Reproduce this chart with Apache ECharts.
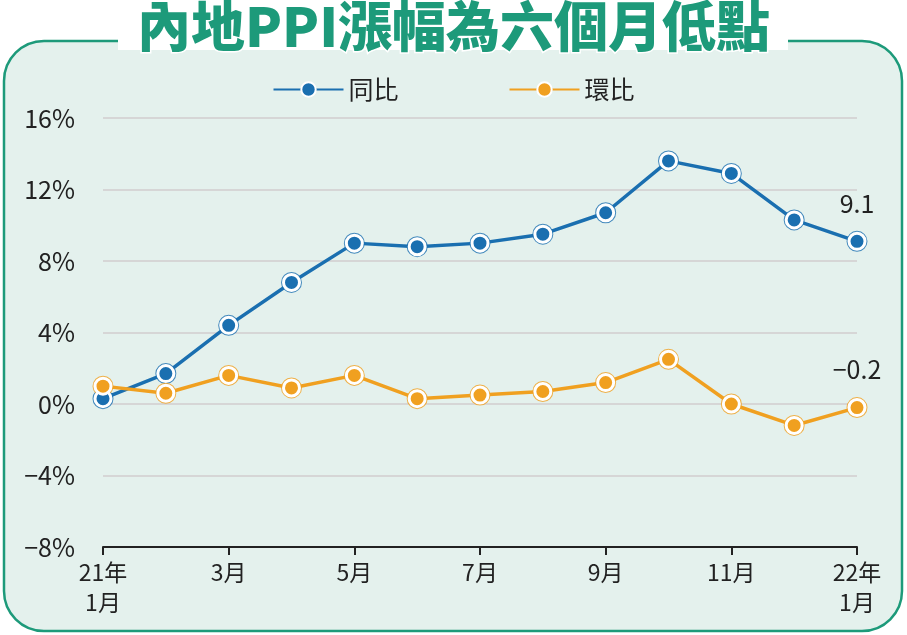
<!DOCTYPE html><html><head><meta charset="utf-8"><script src="https://cdn.jsdelivr.net/npm/echarts@6/dist/echarts.min.js"></script>
<style>body{margin:0;background:#fff}#c{width:907px;height:635px}</style></head><body><div id="c"></div><script>
const categories=['21年\n1月','','3月','','5月','','7月','','9月','','11月','','22年\n1月'];
const yoy=[0.3,1.7,4.4,6.8,9.0,8.8,9.0,9.5,10.7,13.6,12.9,10.3,9.1];
const mom=[1.0,0.6,1.6,0.9,1.6,0.3,0.5,0.7,1.2,2.5,0.0,-1.2,-0.2];
const blue='#1a6fb0',orange='#f0a020';
const font='"Noto Sans CJK TC",sans-serif';
const ch=echarts.init(document.getElementById('c'));
function last(arr,f){return arr.map((v,i)=>i===arr.length-1?{value:v,label:{show:true,formatter:f}}:v);}
ch.setOption({
 animation:false,
 graphic:[
  {type:'rect',shape:{x:4,y:41,width:898,height:590,r:40},style:{fill:'#e4f1ed',stroke:'#1d9a7a',lineWidth:2.5},z:-10},
  {type:'rect',shape:{x:118,y:0,width:670,height:50},style:{fill:'#fff'},z:-9},
  {type:'text',left:'center',top:-2,style:{text:'內地PPI漲幅為六個月低點',font:'900 54px '+font,fill:'#1d9a7a',stroke:'#fff',lineWidth:3},z:10}
 ],
 legend:{top:72,left:'center',itemGap:110,itemWidth:70,itemHeight:18,textStyle:{fontSize:25,fontFamily:font,color:'#222'},
   data:['同比','環比']},
 grid:{left:103,right:50,top:118,bottom:88},
 xAxis:{type:'category',boundaryGap:false,data:categories,
   axisLine:{onZero:false,lineStyle:{color:'#222',width:2}},axisTick:{length:8,lineStyle:{color:'#222',width:2},interval:1},
   axisLabel:{interval:0,fontSize:23,fontFamily:font,color:'#222',lineHeight:30,margin:10}},
 yAxis:{type:'value',min:-8,max:16,interval:4,
   axisLabel:{formatter:v=>(v<0?'−'+(-v):v)+'%',fontSize:25,fontFamily:font,color:'#222',margin:28},
   axisLine:{show:false},axisTick:{show:false},splitLine:{lineStyle:{color:'#d6d6d6',width:2}}},
 series:[
  {name:'同比',type:'line',data:last(yoy,'9.1'),lineStyle:{color:blue,width:3.5},color:blue,symbol:'circle',symbolSize:16,
   itemStyle:{color:blue,borderColor:'#fff',borderWidth:3},
   label:{show:false,position:'top',distance:16,fontSize:25,fontFamily:font,color:'#222'},z:3},
  {name:'環比',type:'line',data:last(mom,'−0.2'),lineStyle:{color:orange,width:3.5},color:orange,symbol:'circle',symbolSize:16,
   itemStyle:{color:orange,borderColor:'#fff',borderWidth:3},
   label:{show:false,position:'top',distance:16,fontSize:25,fontFamily:font,color:'#222'},z:3},
  {type:'scatter',data:yoy,symbolSize:19,itemStyle:{color:'#fff',borderColor:blue,borderWidth:2},z:2,silent:true},
  {type:'scatter',data:mom,symbolSize:19,itemStyle:{color:'#fff',borderColor:orange,borderWidth:2},z:2,silent:true}
 ]
});
</script></body></html>
